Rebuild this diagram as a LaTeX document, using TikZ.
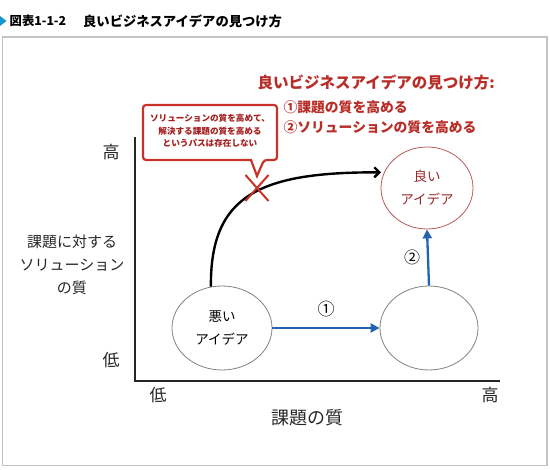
\documentclass[tikz,border=0pt]{standalone}
\usepackage{fontspec}
\setmainfont{Noto Sans CJK JP}
\usetikzlibrary{arrows.meta,shapes.geometric,shapes.misc}
\definecolor{framegray}{RGB}{195,195,195}
\definecolor{titleblue}{RGB}{20,150,200}
\definecolor{headred}{RGB}{185,45,40}
\definecolor{noteRed}{RGB}{165,30,30}
\definecolor{boxred}{RGB}{200,50,40}
\definecolor{arrowblue}{RGB}{35,100,175}
\definecolor{goodred}{RGB}{150,40,40}
\definecolor{ellgray}{RGB}{130,130,130}
\definecolor{goodline}{RGB}{185,90,90}
\begin{document}
\begin{tikzpicture}[x=1pt,y=-1pt,
  idea/.style={ellipse,draw=ellgray,line width=0.8pt,fill=white,align=center,inner sep=0pt,
    font=\fontsize{13.5}{23}\selectfont},
  bluearrow/.style={draw=arrowblue,line width=2.3pt,-{Triangle[length=9pt,width=9pt]}},
  axislabel/.style={text=black!85,font=\fontsize{17}{20}\selectfont},
  headline/.style={anchor=west,text=headred,font=\bfseries\fontsize{13.8}{16}\selectfont}]
\useasboundingbox (0,0) rectangle (550,470);
% frame and title
\draw[framegray,line width=1.5pt] (2.5,37) rectangle (547,465.5);
\fill[titleblue] (0,16) -- (6.5,21) -- (0,26) -- cycle;
\node[anchor=west,inner sep=0pt] (fig) at (9.5,21) {\bfseries\fontsize{12.3}{14}\selectfont 図表1-1-2};
\node[anchor=west,inner sep=0pt] (title) at (83,21) {\bfseries\fontsize{13.3}{15}\selectfont 良いビジネスアイデアの見つけ方};
% axes
\coordinate (ytop) at (135,137);
\coordinate (xend) at (500,381);
\draw[line width=1.6pt,black!85] (ytop) |- (xend);
\node[axislabel] (yhigh) at (111,152) {高};
\node[axislabel] (ylow) at (111,360) {低};
\node[axislabel] (xlow) at (158,395) {低};
\node[axislabel] (xhigh) at (490,395) {高};
\node[text=black!85,font=\fontsize{18}{20}\selectfont] (xlabel) at (307,418) {課題の質};
\node[text=black!85,align=center,font=\fontsize{15}{23}\selectfont] (ylabel) at (72,265) {課題に対する\\ソリューション\\の質};
% ideas
\node[idea,minimum width=100pt,minimum height=84pt] (bad) at (222,328) {悪い\\アイデア};
\node[idea,minimum width=98pt,minimum height=84pt] (mid) at (429,328) {};
\node[idea,draw=goodline,text=goodred,minimum width=92pt,minimum height=82pt] (good) at (427,188) {良い\\アイデア};
% blue arrows
\draw[bluearrow] (bad.east) -- (mid.west);
\draw[bluearrow] (mid.north) -- (good.south);
\node[font=\fontsize{17}{20}\selectfont] (one) at (326,309) {①};
\node[font=\fontsize{16}{20}\selectfont] (two) at (412,257) {②};
% black curve
\draw[line width=2.4pt,-{Straight Barb[length=5pt,width=10pt]},shorten >=3pt]
  (bad.105) .. controls (210,195) and (260,172) .. (good.160);
% callout
\draw[boxred,line width=2.2pt,fill=white,rounded corners=3pt]
  (143,105) -- (277,105) -- (277,160) -- (264,160) [sharp corners] -- (257,176) -- (251,160)
  [rounded corners=3pt] -- (143,160) -- cycle;
\node[align=center,text=noteRed,font=\bfseries\fontsize{8.6}{12.5}\selectfont] (note) at (210,131)
  {ソリューションの質を高めて、\\解決する課題の質を高める\\というパスは存在しない};
\node[cross out,draw=boxred,line width=2pt,minimum width=21pt,minimum height=24pt,inner sep=0pt] (xmark) at (257,188) {};
% heading
\node[anchor=west,text=headred,font=\bfseries\fontsize{15.5}{18}\selectfont] (head) at (254,83) {良いビジネスアイデアの見つけ方:};
\node[headline] (h1) at (280,107) {①課題の質を高める};
\node[headline] (h2) at (280,127) {②ソリューションの質を高める};
\end{tikzpicture}
\end{document}
